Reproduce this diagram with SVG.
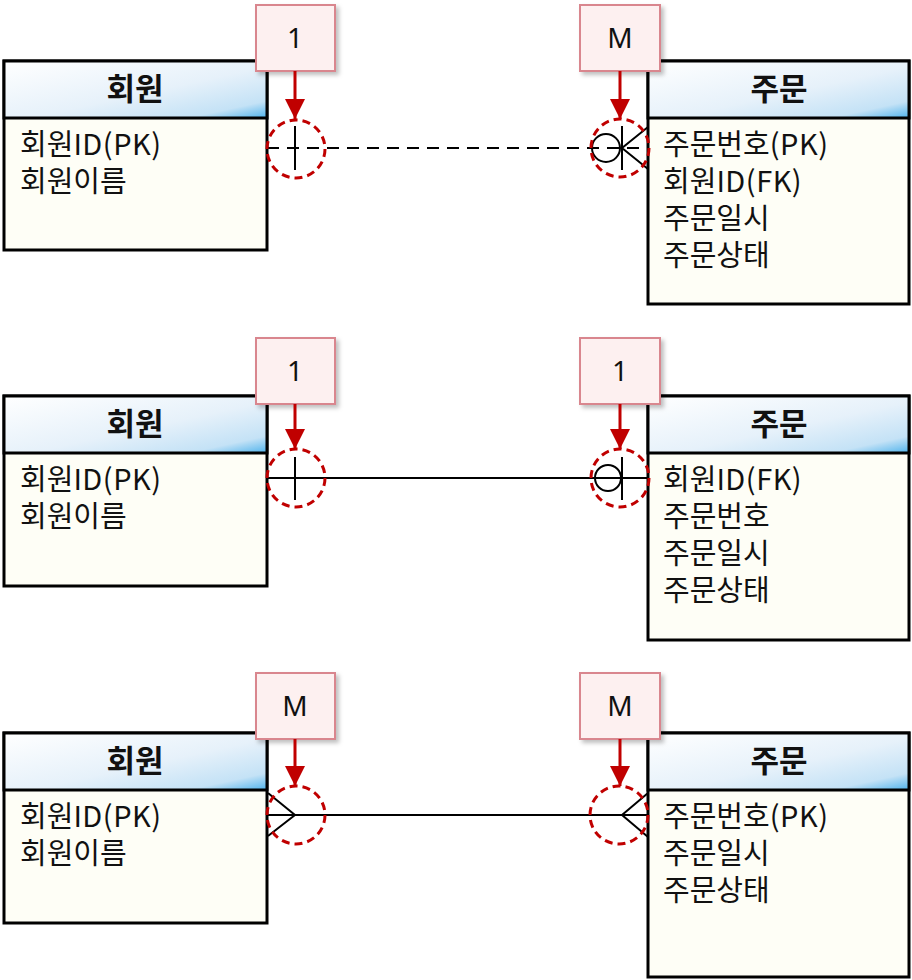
<svg xmlns="http://www.w3.org/2000/svg" width="912" height="980" viewBox="0 0 912 980">
<defs>
<linearGradient id="hdr" x1="0" y1="0" x2="1" y2="1">
<stop offset="0" stop-color="#ffffff"/>
<stop offset="0.55" stop-color="#e6f1fa"/>
<stop offset="0.85" stop-color="#c4e2f6"/>
<stop offset="1" stop-color="#4fb3ec"/>
</linearGradient>
<filter id="sh" x="-20%" y="-20%" width="150%" height="150%">
<feDropShadow dx="3" dy="3" stdDeviation="2" flood-color="#000" flood-opacity="0.25"/>
</filter>
<marker id="ah" viewBox="0 0 20 20" refX="20" refY="10" markerWidth="20" markerHeight="20" markerUnits="userSpaceOnUse" orient="auto">
<path d="M0,0 L20,10 L0,20 Z" fill="#c00000"/>
</marker>
</defs>
<style>
.box{fill:#fefef6;stroke:#000;stroke-width:3}
.hd{fill:url(#hdr);stroke:#000;stroke-width:3}
.ht{font-family:"Noto Sans CJK KR","Noto Sans",sans-serif;font-size:31px;font-weight:bold;fill:#111;text-anchor:middle}
.bt{font-family:"Noto Sans CJK KR","Noto Sans",sans-serif;font-size:29px;fill:#111}
.la{letter-spacing:0.5px}
.lb{fill:#fdf0f0;stroke:#d9868e;stroke-width:2}
.lt{font-family:"Noto Sans","Noto Sans CJK KR",sans-serif;font-size:28px;fill:#111;text-anchor:middle}
.ar{stroke:#c00000;stroke-width:3;fill:none}
.dc{fill:none;stroke:#c00000;stroke-width:3;stroke-dasharray:8 5}
.cn{fill:none;stroke:#000;stroke-width:2}
.dash{stroke-dasharray:12 8}
</style>

<!-- Row 1 -->
<g id="member1">
<rect class="box" x="4" y="61" width="263" height="189"/>
<rect class="hd" x="4" y="61" width="263" height="57"/>
<text class="ht" x="135" y="100">회원</text>
<text class="bt" x="20" y="155">회원<tspan class="la">ID(PK)</tspan></text>
<text class="bt" x="20" y="192">회원이름</text>
</g>
<g id="order1">
<rect class="box" x="648" y="61" width="261" height="243"/>
<rect class="hd" x="648" y="61" width="261" height="57"/>
<text class="ht" x="779" y="100">주문</text>
<text class="bt" x="663" y="155">주문번호<tspan class="la">(PK)</tspan></text>
<text class="bt" x="663" y="192">회원<tspan class="la">ID(FK)</tspan></text>
<text class="bt" x="663" y="229">주문일시</text>
<text class="bt" x="663" y="266">주문상태</text>
</g>
<g id="label1a">
<rect class="lb" x="256" y="5" width="79" height="66" filter="url(#sh)"/>
<text class="lt" x="295" y="48">1</text>
</g>
<g id="label1b">
<rect class="lb" x="580" y="5" width="80" height="66" filter="url(#sh)"/>
<text class="lt" x="620" y="48">M</text>
</g>

<!-- Row 2 -->
<g id="member2">
<rect class="box" x="4" y="396" width="263" height="190"/>
<rect class="hd" x="4" y="396" width="263" height="57"/>
<text class="ht" x="135" y="435">회원</text>
<text class="bt" x="20" y="490">회원<tspan class="la">ID(PK)</tspan></text>
<text class="bt" x="20" y="527">회원이름</text>
</g>
<g id="order2">
<rect class="box" x="648" y="396" width="261" height="244"/>
<rect class="hd" x="648" y="396" width="261" height="57"/>
<text class="ht" x="779" y="435">주문</text>
<text class="bt" x="663" y="490">회원<tspan class="la">ID(FK)</tspan></text>
<text class="bt" x="663" y="527">주문번호</text>
<text class="bt" x="663" y="564">주문일시</text>
<text class="bt" x="663" y="601">주문상태</text>
</g>
<g id="label2a">
<rect class="lb" x="256" y="338" width="79" height="66" filter="url(#sh)"/>
<text class="lt" x="295" y="381">1</text>
</g>
<g id="label2b">
<rect class="lb" x="580" y="338" width="80" height="66" filter="url(#sh)"/>
<text class="lt" x="620" y="381">1</text>
</g>

<!-- Row 3 -->
<g id="member3">
<rect class="box" x="4" y="733" width="263" height="190"/>
<rect class="hd" x="4" y="733" width="263" height="57"/>
<text class="ht" x="135" y="772">회원</text>
<text class="bt" x="20" y="827">회원<tspan class="la">ID(PK)</tspan></text>
<text class="bt" x="20" y="864">회원이름</text>
</g>
<g id="order3">
<rect class="box" x="648" y="733" width="261" height="244"/>
<rect class="hd" x="648" y="733" width="261" height="57"/>
<text class="ht" x="779" y="772">주문</text>
<text class="bt" x="663" y="827">주문번호<tspan class="la">(PK)</tspan></text>
<text class="bt" x="663" y="864">주문일시</text>
<text class="bt" x="663" y="901">주문상태</text>
</g>
<g id="label3a">
<rect class="lb" x="256" y="673" width="79" height="66" filter="url(#sh)"/>
<text class="lt" x="295" y="716">M</text>
</g>
<g id="label3b">
<rect class="lb" x="580" y="673" width="80" height="66" filter="url(#sh)"/>
<text class="lt" x="620" y="716">M</text>
</g>

<g id="connectors">
<!-- row 1 -->
<line class="cn dash" x1="267" y1="148" x2="648" y2="148"/>
<line class="cn" x1="295" y1="126" x2="295" y2="170"/>
<circle class="cn" cx="606" cy="148" r="14"/>
<line class="cn" x1="622" y1="126" x2="622" y2="170"/>
<polyline class="cn" points="648,127 622,148 648,169"/>
<!-- row 2 -->
<line class="cn" x1="267" y1="478" x2="648" y2="478"/>
<line class="cn" x1="295" y1="457" x2="295" y2="500"/>
<circle class="cn" cx="608" cy="478" r="13"/>
<line class="cn" x1="622" y1="457" x2="622" y2="500"/>
<!-- row 3 -->
<line class="cn" x1="267" y1="815" x2="648" y2="815"/>
<polyline class="cn" points="268,793 295,815 268,836"/>
<polyline class="cn" points="648,793 622,815 648,837"/>
</g>

<g id="callouts">
<circle class="dc" cx="296" cy="149" r="29"/>
<circle class="dc" cx="620" cy="148" r="29"/>
<circle class="dc" cx="296" cy="478" r="29"/>
<circle class="dc" cx="620" cy="478" r="29"/>
<circle class="dc" cx="296" cy="815" r="29"/>
<circle class="dc" cx="619" cy="815" r="29"/>
<line class="ar" x1="295" y1="71" x2="295" y2="119" marker-end="url(#ah)"/>
<line class="ar" x1="620" y1="71" x2="620" y2="119" marker-end="url(#ah)"/>
<line class="ar" x1="295" y1="404" x2="295" y2="449" marker-end="url(#ah)"/>
<line class="ar" x1="620" y1="404" x2="620" y2="449" marker-end="url(#ah)"/>
<line class="ar" x1="295" y1="739" x2="295" y2="786" marker-end="url(#ah)"/>
<line class="ar" x1="620" y1="739" x2="620" y2="786" marker-end="url(#ah)"/>
</g>
</svg>
